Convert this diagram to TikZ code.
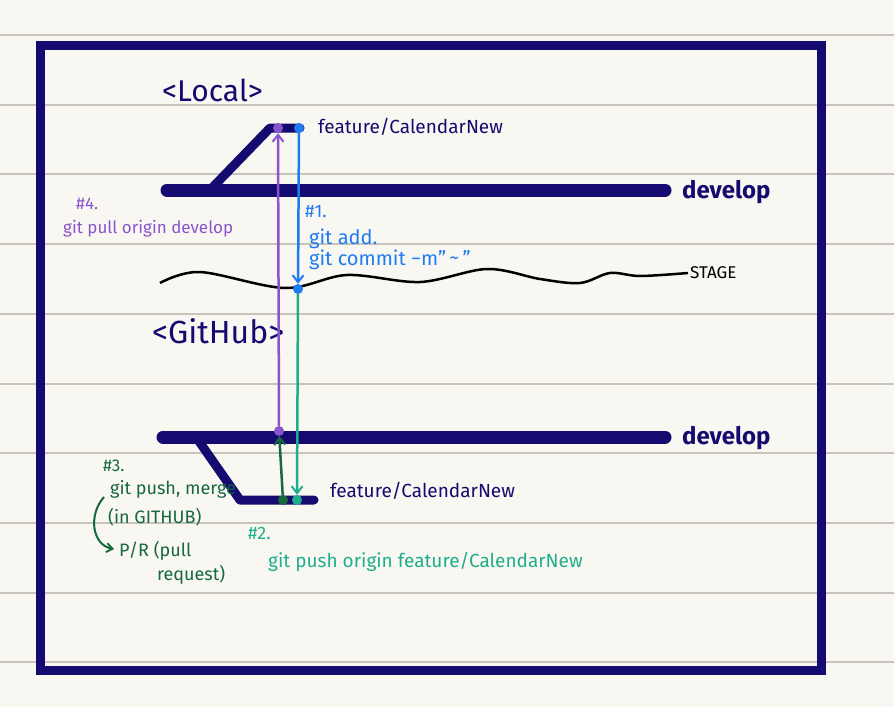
\documentclass[tikz,border=0pt]{standalone}
\usepackage{fontspec}
\setmainfont{Fira Sans}
\usetikzlibrary{arrows.meta}
\definecolor{navy}{HTML}{150A70}
\definecolor{cblue}{HTML}{1E7BF0}
\definecolor{cpurple}{HTML}{8A55CC}
\definecolor{cteal}{HTML}{1FAE8C}
\definecolor{cdgreen}{HTML}{17683C}
\definecolor{paper}{HTML}{F9F7F1}
\definecolor{rule}{HTML}{C9C4BA}
\tikzset{
  fs/.style={font=\fontsize{#1}{#1}\selectfont},
  fsb/.style={font=\fontsize{#1}{#1}\selectfont\bfseries},
  lbl/.style={anchor=west, inner sep=0pt},
  bar/.style={navy, line width=13pt, line cap=round},
  fbar/.style={navy, line width=9pt, line cap=round, line join=round},
  dot/.style={circle, fill=#1, inner sep=0pt, minimum size=10pt},
  conn/.style={#1, line width=2.5pt},
  tip/.style={-{Straight Barb[length=7pt,width=11pt,line width=2pt]}},
}
\begin{document}
\begin{tikzpicture}[x=1pt,y=-1pt]
\useasboundingbox (0,0) rectangle (894,707);
\fill[paper] (0,0) rectangle (894,707);
% notebook rules
\foreach \k in {0,...,9} \draw[rule, line width=2pt] (0,{35+69.7*\k}) -- (894,{35+69.7*\k});
% frame
\draw[navy, line width=9pt] (40,45) rectangle (821,670);

% ---------- Local ----------
\node[lbl, navy, fs=30] (tlocal) at (162,90) {<Local>};
\coordinate (ld1) at (167,190);
\coordinate (ld2) at (665,190);
\draw[bar] (ld1) -- (ld2);
\coordinate (lf0) at (210,190);
\coordinate (lf1) at (270,128);
\coordinate (lf2) at (300,128);
\draw[fbar] (lf0) -- (lf1) -- (lf2);
\node[lbl, navy, fs=19] (tfeat1) at (318,127) {feature/CalendarNew};
\node[lbl, navy, fsb=24] (tdev1) at (682,192) {develop};

% stage line
\draw[black, line width=2.5pt] plot[smooth, tension=0.55] coordinates {(160,283) (200,272) (285,288) (347,275) (420,282) (487,269) (540,279) (580,283) (610,273) (640,276) (688,273)};
\node[lbl, black, fs=17] (tstage) at (690,273) {STAGE};

% ---------- GitHub ----------
\node[lbl, navy, fs=32] (tgit) at (152,331) {<GitHub>};
\coordinate (gd1) at (163,437);
\coordinate (gd2) at (665,437);
\draw[bar] (gd1) -- (gd2);
\coordinate (gf0) at (196,437);
\coordinate (gf1) at (240,500);
\coordinate (gf2) at (314,500);
\draw[fbar] (gf0) -- (gf1) -- (gf2);
\node[lbl, navy, fs=19] (tfeat2) at (330,491) {feature/CalendarNew};
\node[lbl, navy, fsb=24] (tdev2) at (682,438) {develop};

% dots
\node[dot=cpurple] (pL) at (278,128) {};
\node[dot=cblue] (bL) at (299,128) {};
\node[dot=cblue] (bS) at (298,289) {};
\node[dot=cpurple] (pG) at (279,431) {};
\node[dot=cdgreen] (gG) at (283,500) {};
\node[dot=cteal] (tG) at (297,500) {};

% connectors
\draw[conn=cpurple, tip] (pG) -- (pL);
\draw[conn=cblue, tip] (bL) -- (bS);
\draw[conn=cteal, tip] (bS) -- (tG);
\draw[conn=cdgreen, tip] (gG) -- (pG);

% #1
\node[lbl, cblue, fs=18] (n1a) at (305,212) {\#1.};
\node[lbl, cblue, fs=20] (n1b) at (309,239) {git add.};
\node[lbl, cblue, fs=20] (n1c) at (309,260) {git commit −m"\,\raisebox{1pt}{\textasciitilde}\,"};

% #4
\node[lbl, cpurple, fs=17] (n4a) at (76,204) {\#4.};
\node[lbl, cpurple, fs=17] (n4b) at (63,229) {git pull origin develop};

% #3
\node[lbl, cdgreen, fs=17] (n3a) at (103,466) {\#3.};
\node[lbl, cdgreen, fs=18] (n3b) at (110,489) {git push, merge};
\node[lbl, cdgreen, fs=18] (n3c) at (108,517) {(in GITHUB)};
\node[lbl, cdgreen, fs=18] (n3d) at (119,551) {P/R (pull};
\node[lbl, cdgreen, fs=18] (n3e) at (157,575) {request)};
\coordinate (c3a) at (104,497);
\coordinate (c3b) at (114,549);
\draw[cdgreen, line width=2pt, -{Straight Barb[length=6pt,width=9pt,line width=1.8pt]}] (c3a) .. controls (88,515) and (92,545) .. (c3b);

% #2
\node[lbl, cteal, fs=18] (n2a) at (248,533) {\#2.};
\node[lbl, cteal, fs=19] (n2b) at (268,562) {git push origin feature/CalendarNew};
\end{tikzpicture}
\end{document}
